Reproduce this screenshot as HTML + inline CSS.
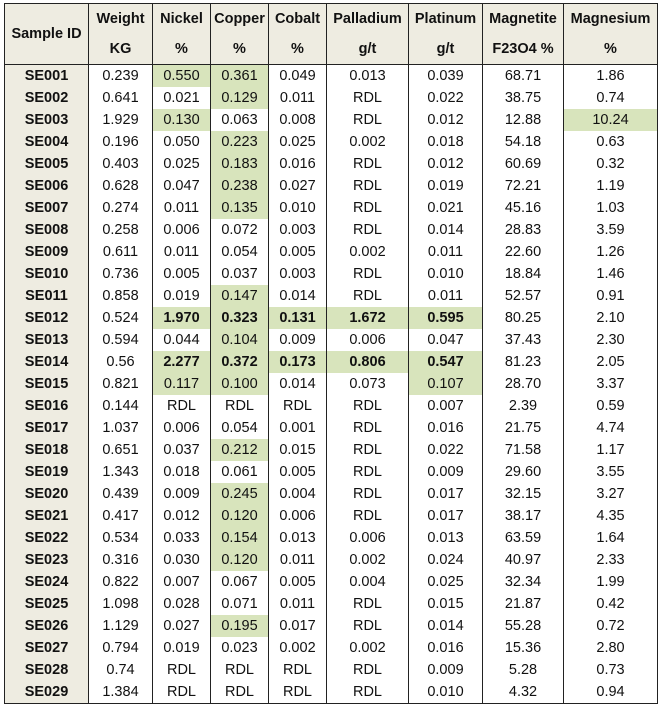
<!DOCTYPE html>
<html><head><style>
body{margin:0;background:#fff;width:662px;height:707px;overflow:hidden}
table{position:absolute;left:4px;top:3px;border-collapse:collapse;table-layout:fixed;font-family:"Liberation Sans",Arial,sans-serif;font-size:14.5px;color:#111}
td,th{border-left:1px solid #222;border-right:1px solid #222;padding:0;text-align:center;white-space:nowrap;overflow:hidden}
th{background:#eeece1;font-weight:bold;height:30px}
tr.h1 th{border-top:1px solid #222}
tr.h2 th{border-bottom:1px solid #222}
td{height:22px}
td:first-child{background:#eeece1;font-weight:bold}
tr:last-child td{border-bottom:1px solid #222}
.g{background:#d8e4bc}
.b{font-weight:bold}
u{text-decoration-color:#3060c0}
</style></head><body>
<table>
<colgroup><col style="width:84px"><col style="width:64px"><col style="width:58px"><col style="width:58px"><col style="width:58px"><col style="width:82px"><col style="width:74px"><col style="width:81px"><col style="width:94px"></colgroup>
<tr class="h1"><th rowspan="2" style="border-bottom:1px solid #222">Sample ID</th><th>Weight</th><th>Nickel</th><th>Copper</th><th>Cobalt</th><th>Palladium</th><th>Platinum</th><th>Magnetite</th><th>Magnesium</th></tr>
<tr class="h2"><th>KG</th><th>%</th><th>%</th><th>%</th><th><u>g</u>/t</th><th><u>g</u>/t</th><th>F23O4 %</th><th>%</th></tr>
<tr><td>SE001</td><td>0.239</td><td class="g">0.550</td><td class="g">0.361</td><td>0.049</td><td>0.013</td><td>0.039</td><td>68.71</td><td>1.86</td></tr>
<tr><td>SE002</td><td>0.641</td><td>0.021</td><td class="g">0.129</td><td>0.011</td><td>RDL</td><td>0.022</td><td>38.75</td><td>0.74</td></tr>
<tr><td>SE003</td><td>1.929</td><td class="g">0.130</td><td>0.063</td><td>0.008</td><td>RDL</td><td>0.012</td><td>12.88</td><td class="g">10.24</td></tr>
<tr><td>SE004</td><td>0.196</td><td>0.050</td><td class="g">0.223</td><td>0.025</td><td>0.002</td><td>0.018</td><td>54.18</td><td>0.63</td></tr>
<tr><td>SE005</td><td>0.403</td><td>0.025</td><td class="g">0.183</td><td>0.016</td><td>RDL</td><td>0.012</td><td>60.69</td><td>0.32</td></tr>
<tr><td>SE006</td><td>0.628</td><td>0.047</td><td class="g">0.238</td><td>0.027</td><td>RDL</td><td>0.019</td><td>72.21</td><td>1.19</td></tr>
<tr><td>SE007</td><td>0.274</td><td>0.011</td><td class="g">0.135</td><td>0.010</td><td>RDL</td><td>0.021</td><td>45.16</td><td>1.03</td></tr>
<tr><td>SE008</td><td>0.258</td><td>0.006</td><td>0.072</td><td>0.003</td><td>RDL</td><td>0.014</td><td>28.83</td><td>3.59</td></tr>
<tr><td>SE009</td><td>0.611</td><td>0.011</td><td>0.054</td><td>0.005</td><td>0.002</td><td>0.011</td><td>22.60</td><td>1.26</td></tr>
<tr><td>SE010</td><td>0.736</td><td>0.005</td><td>0.037</td><td>0.003</td><td>RDL</td><td>0.010</td><td>18.84</td><td>1.46</td></tr>
<tr><td>SE011</td><td>0.858</td><td>0.019</td><td class="g">0.147</td><td>0.014</td><td>RDL</td><td>0.011</td><td>52.57</td><td>0.91</td></tr>
<tr><td>SE012</td><td>0.524</td><td class="g b">1.970</td><td class="g b">0.323</td><td class="g b">0.131</td><td class="g b">1.672</td><td class="g b">0.595</td><td>80.25</td><td>2.10</td></tr>
<tr><td>SE013</td><td>0.594</td><td>0.044</td><td class="g">0.104</td><td>0.009</td><td>0.006</td><td>0.047</td><td>37.43</td><td>2.30</td></tr>
<tr><td>SE014</td><td>0.56</td><td class="g b">2.277</td><td class="g b">0.372</td><td class="g b">0.173</td><td class="g b">0.806</td><td class="g b">0.547</td><td>81.23</td><td>2.05</td></tr>
<tr><td>SE015</td><td>0.821</td><td class="g">0.117</td><td class="g">0.100</td><td>0.014</td><td>0.073</td><td class="g">0.107</td><td>28.70</td><td>3.37</td></tr>
<tr><td>SE016</td><td>0.144</td><td>RDL</td><td>RDL</td><td>RDL</td><td>RDL</td><td>0.007</td><td>2.39</td><td>0.59</td></tr>
<tr><td>SE017</td><td>1.037</td><td>0.006</td><td>0.054</td><td>0.001</td><td>RDL</td><td>0.016</td><td>21.75</td><td>4.74</td></tr>
<tr><td>SE018</td><td>0.651</td><td>0.037</td><td class="g">0.212</td><td>0.015</td><td>RDL</td><td>0.022</td><td>71.58</td><td>1.17</td></tr>
<tr><td>SE019</td><td>1.343</td><td>0.018</td><td>0.061</td><td>0.005</td><td>RDL</td><td>0.009</td><td>29.60</td><td>3.55</td></tr>
<tr><td>SE020</td><td>0.439</td><td>0.009</td><td class="g">0.245</td><td>0.004</td><td>RDL</td><td>0.017</td><td>32.15</td><td>3.27</td></tr>
<tr><td>SE021</td><td>0.417</td><td>0.012</td><td class="g">0.120</td><td>0.006</td><td>RDL</td><td>0.017</td><td>38.17</td><td>4.35</td></tr>
<tr><td>SE022</td><td>0.534</td><td>0.033</td><td class="g">0.154</td><td>0.013</td><td>0.006</td><td>0.013</td><td>63.59</td><td>1.64</td></tr>
<tr><td>SE023</td><td>0.316</td><td>0.030</td><td class="g">0.120</td><td>0.011</td><td>0.002</td><td>0.024</td><td>40.97</td><td>2.33</td></tr>
<tr><td>SE024</td><td>0.822</td><td>0.007</td><td>0.067</td><td>0.005</td><td>0.004</td><td>0.025</td><td>32.34</td><td>1.99</td></tr>
<tr><td>SE025</td><td>1.098</td><td>0.028</td><td>0.071</td><td>0.011</td><td>RDL</td><td>0.015</td><td>21.87</td><td>0.42</td></tr>
<tr><td>SE026</td><td>1.129</td><td>0.027</td><td class="g">0.195</td><td>0.017</td><td>RDL</td><td>0.014</td><td>55.28</td><td>0.72</td></tr>
<tr><td>SE027</td><td>0.794</td><td>0.019</td><td>0.023</td><td>0.002</td><td>0.002</td><td>0.016</td><td>15.36</td><td>2.80</td></tr>
<tr><td>SE028</td><td>0.74</td><td>RDL</td><td>RDL</td><td>RDL</td><td>RDL</td><td>0.009</td><td>5.28</td><td>0.73</td></tr>
<tr><td>SE029</td><td>1.384</td><td>RDL</td><td>RDL</td><td>RDL</td><td>RDL</td><td>0.010</td><td>4.32</td><td>0.94</td></tr>
</table>
</body></html>
